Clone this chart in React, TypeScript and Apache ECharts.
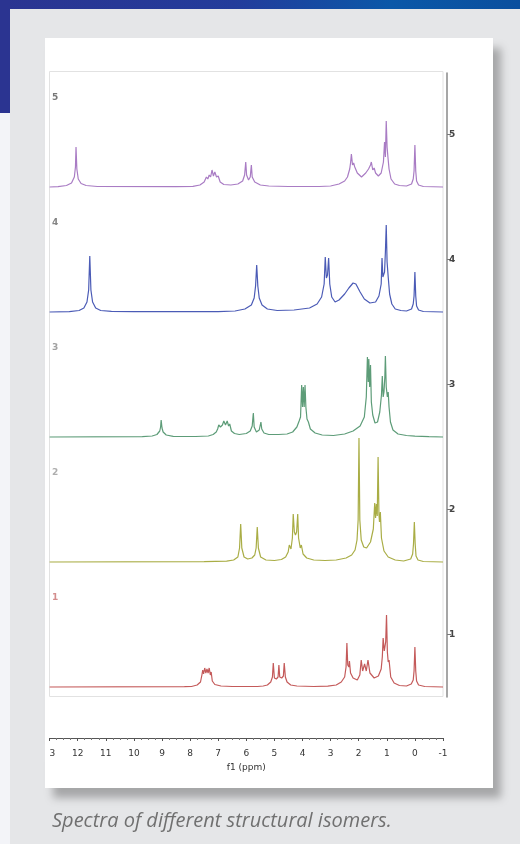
import React, { useEffect, useRef } from "react";
import * as echarts from "echarts";

// ---- data ----
const ppmMin = -1;
const ppmMax = 13;
const panelNames = ["1", "2", "3", "4", "5"];
const panelColors = ["#c45a5a", "#a9ad45", "#5d9c78", "#4b5bb6", "#a97cc4"];
const panelLabelColors = ["#c87070", "#9a9a9a", "#8a8a8a", "#666666", "#555555"];
const baselineOffsets = [10, 135, 260, 385, 510];
const tickValues = [63, 188, 313, 438, 563];
const tickLabels = ["1", "2", "3", "4", "5"];
const caption = "Spectra of different structural isomers.";

// [ppm, intensity]
const spectrum1: [number, number][] = [
  [13, 0], [8.2, 0.3], [7.95, 0.5], [7.75, 2], [7.63, 5], [7.58, 12], [7.55, 17], [7.52, 13], [7.48, 19],
  [7.44, 14], [7.4, 18], [7.36, 14], [7.32, 19], [7.28, 12], [7.25, 15], [7.21, 6], [7.12, 2.5], [6.9, 1],
  [6.5, 0.5], [5.6, 0.5], [5.4, 1], [5.25, 2], [5.13, 5], [5.07, 10], [5.04, 24], [5.0, 9], [4.93, 8],
  [4.87, 10], [4.84, 22], [4.81, 10], [4.74, 9], [4.68, 11], [4.65, 24], [4.61, 10], [4.55, 5], [4.42, 2],
  [4.2, 1], [3.6, 0.5], [3.1, 0.8], [2.8, 2], [2.62, 5], [2.5, 10], [2.45, 20], [2.42, 44], [2.39, 22],
  [2.35, 20], [2.33, 26], [2.29, 14], [2.2, 9], [2.05, 7], [1.96, 12], [1.91, 27], [1.86, 16], [1.79, 23],
  [1.73, 16], [1.67, 27], [1.6, 14], [1.45, 9], [1.3, 11], [1.2, 18], [1.16, 30], [1.13, 49], [1.09, 36],
  [1.04, 45], [1.01, 72], [0.98, 35], [0.95, 25], [0.92, 27], [0.86, 10], [0.74, 4], [0.55, 1.5], [0.3, 1],
  [0.13, 3], [0.06, 7], [0.03, 16], [0, 40], [-0.03, 16], [-0.06, 6], [-0.13, 2], [-0.35, 0.5], [-1, 0],
];
const spectrum2: [number, number][] = [
  [13, 0], [7.5, 0.3], [6.7, 0.8], [6.45, 2], [6.3, 5], [6.24, 14], [6.2, 38], [6.16, 14], [6.08, 5],
  [5.95, 3], [5.8, 4], [5.7, 7], [5.65, 14], [5.61, 35], [5.57, 14], [5.49, 5], [5.3, 2], [5.0, 1.5],
  [4.75, 2.5], [4.6, 5], [4.51, 10], [4.47, 17], [4.41, 13], [4.36, 24], [4.33, 48], [4.29, 30], [4.25, 27],
  [4.21, 30], [4.17, 48], [4.14, 24], [4.08, 14], [4.04, 17], [3.98, 8], [3.85, 4], [3.6, 2], [3.2, 1.5],
  [2.8, 2], [2.45, 4], [2.25, 7], [2.13, 12], [2.06, 22], [2.02, 42], [1.99, 124], [1.96, 42], [1.91, 22],
  [1.82, 15], [1.72, 14], [1.58, 20], [1.48, 33], [1.43, 59], [1.4, 44], [1.37, 58], [1.34, 46], [1.31, 105],
  [1.28, 48], [1.26, 40], [1.23, 50], [1.19, 24], [1.1, 11], [0.95, 5], [0.7, 2], [0.4, 1], [0.15, 3],
  [0.08, 8], [0.05, 18], [0.02, 40], [-0.01, 18], [-0.04, 6], [-0.11, 2], [-0.3, 0.5], [-1, 0],
];
const spectrum3: [number, number][] = [
  [13, 0], [9.7, 0.3], [9.35, 1], [9.18, 2.5], [9.08, 6], [9.05, 10], [9.03, 17], [9.0, 9], [8.96, 5],
  [8.85, 2], [8.6, 0.7], [7.8, 0.5], [7.35, 1], [7.18, 2.5], [7.07, 5], [7.02, 8], [6.98, 12], [6.92, 10],
  [6.85, 12], [6.8, 16], [6.74, 12], [6.68, 16], [6.63, 11], [6.59, 13], [6.53, 6], [6.42, 3.5], [6.25, 2.5],
  [6.0, 3.5], [5.86, 6], [5.79, 11], [5.75, 24], [5.72, 10], [5.64, 5], [5.54, 7], [5.48, 15], [5.45, 8],
  [5.37, 4], [5.2, 2.5], [4.85, 2.5], [4.55, 3], [4.35, 5], [4.2, 10], [4.12, 16], [4.07, 20], [4.03, 52],
  [4.0, 30], [3.97, 50], [3.94, 30], [3.91, 52], [3.88, 30], [3.84, 18], [3.79, 15], [3.72, 8], [3.55, 4],
  [3.3, 2], [2.9, 1.5], [2.5, 3], [2.2, 6], [1.95, 11], [1.8, 20], [1.73, 40], [1.69, 80], [1.66, 55],
  [1.64, 78], [1.61, 50], [1.58, 72], [1.55, 35], [1.5, 22], [1.42, 14], [1.33, 15], [1.25, 25], [1.19, 42],
  [1.16, 61], [1.13, 40], [1.1, 45], [1.07, 60], [1.05, 81], [1.02, 50], [0.98, 40], [0.95, 45], [0.92, 30],
  [0.87, 15], [0.78, 7], [0.6, 3], [0.3, 1.5], [0, 0.8], [-0.5, 0.3], [-1, 0],
];
const spectrum4: [number, number][] = [
  [13, 0], [12.3, 0.3], [11.95, 1.5], [11.78, 4], [11.67, 10], [11.61, 22], [11.57, 56], [11.53, 22],
  [11.47, 10], [11.36, 4], [11.18, 1.5], [10.8, 0.7], [10, 0.3], [7, 0.3], [6.4, 1], [6.05, 3], [5.82, 7],
  [5.72, 14], [5.67, 26], [5.63, 47], [5.59, 26], [5.54, 14], [5.44, 7], [5.25, 3], [4.9, 1.5], [4.3, 2],
  [3.75, 4], [3.48, 8], [3.32, 15], [3.23, 28], [3.19, 55], [3.15, 34], [3.11, 37], [3.07, 54], [3.03, 28],
  [2.96, 15], [2.84, 10], [2.7, 12], [2.5, 18], [2.35, 24], [2.2, 29], [2.1, 28], [1.95, 20], [1.8, 13],
  [1.6, 9], [1.4, 10], [1.28, 16], [1.2, 28], [1.17, 54], [1.14, 35], [1.08, 40], [1.05, 60], [1.02, 87],
  [0.99, 50], [0.95, 35], [0.9, 18], [0.82, 8], [0.7, 3], [0.5, 1.5], [0.3, 1], [0.12, 3], [0.06, 8],
  [0.03, 16], [0, 40], [-0.03, 16], [-0.06, 6], [-0.13, 2], [-0.3, 0.5], [-1, 0],
];
const spectrum5: [number, number][] = [
  [13, 0], [12.7, 0.3], [12.4, 1.5], [12.22, 4], [12.12, 10], [12.08, 20], [12.06, 40], [12.03, 18],
  [11.98, 8], [11.88, 3.5], [11.7, 1.5], [11.3, 0.5], [8.5, 0.3], [7.9, 0.7], [7.65, 2], [7.5, 5],
  [7.42, 10], [7.37, 8], [7.32, 12], [7.27, 10], [7.22, 17], [7.17, 11], [7.12, 15], [7.06, 10], [7.0, 11],
  [6.93, 5], [6.8, 2.5], [6.55, 2], [6.3, 3], [6.13, 6], [6.06, 12], [6.02, 25], [5.99, 12], [5.92, 7],
  [5.86, 10], [5.82, 22], [5.79, 10], [5.7, 5], [5.5, 2], [5.2, 1], [4.5, 0.5], [3.4, 0.5], [3.0, 1],
  [2.7, 3], [2.5, 6], [2.4, 10], [2.32, 18], [2.29, 24], [2.26, 33], [2.22, 22], [2.18, 24], [2.14, 20],
  [2.05, 14], [1.9, 10], [1.75, 14], [1.65, 18], [1.58, 22], [1.55, 25], [1.5, 17], [1.45, 19], [1.4, 14],
  [1.3, 11], [1.2, 14], [1.12, 25], [1.08, 45], [1.05, 30], [1.02, 66], [0.99, 40], [0.96, 30], [0.92, 18],
  [0.85, 8], [0.72, 3], [0.55, 1.5], [0.3, 1], [0.12, 3], [0.06, 8], [0.03, 16], [0, 42], [-0.03, 16],
  [-0.06, 6], [-0.13, 2], [-0.3, 0.5], [-1, 0],
];

const spectra = [spectrum1, spectrum2, spectrum3, spectrum4, spectrum5];

export default function App() {
  const ref = useRef<HTMLDivElement>(null);

  useEffect(() => {
    if (!ref.current) return;
    const chart = echarts.init(ref.current, null, { renderer: "svg" });
    const axisFont = "'DejaVu Sans', Verdana, sans-serif";

    const series: any[] = spectra.map((pts, i) => ({
      type: "line",
      name: "spectrum " + panelNames[i],
      data: pts.map(([x, v]) => [x, baselineOffsets[i] + v]),
      showSymbol: false,
      symbol: "none",
      silent: true,
      clip: true,
      z: 3,
      lineStyle: { color: panelColors[i], width: 1.2 },
      itemStyle: { color: panelColors[i] },
    }));

    series.push({
      type: "scatter",
      name: "panel labels",
      symbolSize: 0,
      silent: true,
      z: 4,
      data: panelNames.map((n, i) => ({
        value: [12.8, baselineOffsets[i] + 90],
        name: n,
        label: { color: panelLabelColors[i] },
      })),
      label: {
        show: true,
        position: "inside",
        formatter: (p: any) => p.name,
        fontSize: 9,
        fontWeight: "bold",
        fontFamily: axisFont,
      },
    });

    const option: any = {
      animation: false,
      grid: { left: 49.6, right: 77, top: 73, bottom: 147, containLabel: false },
      xAxis: {
        type: "value",
        inverse: true,
        min: ppmMin,
        max: ppmMax,
        interval: 1,
        offset: 41,
        name: "f1 (ppm)",
        nameLocation: "middle",
        nameGap: 24,
        nameTextStyle: { fontSize: 9, color: "#333", fontFamily: axisFont },
        axisLine: { show: true, onZero: false, lineStyle: { color: "#555", width: 1 } },
        axisTick: { show: true, length: 3, lineStyle: { color: "#555" } },
        minorTick: { show: true, splitNumber: 4, length: 2, lineStyle: { color: "#777" } },
        axisLabel: { fontSize: 9, color: "#333", margin: 10, fontFamily: axisFont },
        splitLine: { show: false },
      },
      yAxis: {
        type: "value",
        position: "right",
        min: 0,
        max: 624,
        offset: 4,
        axisLine: { show: true, onZero: false, lineStyle: { color: "#888", width: 1.5 } },
        axisTick: { show: true, length: 4, customValues: tickValues, lineStyle: { color: "#777" } },
        axisLabel: {
          show: true,
          customValues: tickValues,
          formatter: (v: number) => tickLabels[tickValues.indexOf(v)] ?? "",
          fontSize: 9,
          fontWeight: "bold",
          color: "#444",
          margin: 2,
          fontFamily: axisFont,
        },
        splitLine: { show: false },
      },
      graphic: {
        elements: [
          { type: "rect", z: -20, silent: true, shape: { x: 0, y: 0, width: 520, height: 844 }, style: { fill: "#e5e6e8" } },
          {
            type: "rect", z: -19, silent: true, shape: { x: 0, y: 0, width: 520, height: 9 },
            style: {
              fill: new echarts.graphic.LinearGradient(0, 0, 1, 0, [
                { offset: 0, color: "#2b3491" },
                { offset: 0.45, color: "#233c9b" },
                { offset: 0.75, color: "#0b58a8" },
                { offset: 1, color: "#0a4f9e" },
              ]),
            },
          },
          { type: "rect", z: -19, silent: true, shape: { x: 0, y: 0, width: 10, height: 113 }, style: { fill: "#2b3491" } },
          { type: "rect", z: -19, silent: true, shape: { x: 0, y: 113, width: 10, height: 731 }, style: { fill: "#f3f4f8" } },
          {
            type: "rect", z: -18, silent: true, shape: { x: 45, y: 38, width: 448, height: 750 },
            style: { fill: "#ffffff", shadowBlur: 8, shadowOffsetX: 8, shadowOffsetY: 10, shadowColor: "rgba(0,0,0,0.28)" },
          },
          {
            type: "rect", z: -17, silent: true, shape: { x: 49.5, y: 71.5, width: 393.5, height: 625 },
            style: { fill: "none", stroke: "#e2e2e2", lineWidth: 1 },
          },
          {
            type: "text", z: 5, silent: true, x: 52, y: 819,
            style: {
              text: caption,
              fontSize: 20,
              fontStyle: "italic",
              fontFamily: "'Open Sans', sans-serif",
              fill: "#707070",
              verticalAlign: "middle",
            },
          },
          { type: "rect", z: 100, silent: true, shape: { x: 38, y: 744, width: 7, height: 18 }, style: { fill: "#e5e6e8" } },
          { type: "rect", z: 100, silent: true, shape: { x: 45, y: 744, width: 4.3, height: 18 }, style: { fill: "#ffffff" } },
        ],
      },
      series,
    };

    chart.setOption(option);
    return () => chart.dispose();
  }, []);

  return (
    <div
      ref={ref}
      style={{ position: "fixed", left: 0, top: 0, width: 520, height: 844 }}
    />
  );
}
